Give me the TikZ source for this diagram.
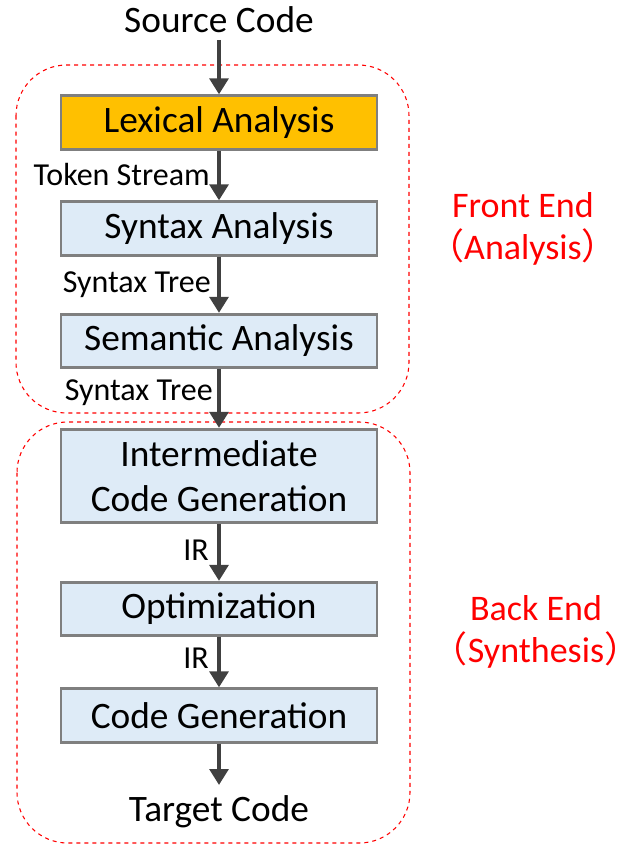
\documentclass[tikz,border=0pt]{standalone}
\usepackage{fontspec}
\setmainfont{Carlito}
\newfontfamily\cjk{Noto Sans CJK SC}
\usetikzlibrary{arrows.meta}
\definecolor{boxgray}{HTML}{7F7F7F}
\definecolor{boxblue}{HTML}{DEEBF7}
\definecolor{boxorange}{HTML}{FFC000}
\definecolor{arrowgray}{HTML}{404040}
\newcommand{\lpar}{\makebox[0.5em][r]{\cjk （}}
\newcommand{\rpar}{\makebox[0.5em][l]{\cjk ）}}
\begin{document}
\begin{tikzpicture}[x=0.75pt,y=-0.75pt,
  stage/.style={draw=boxgray,line width=2.2pt,fill=boxblue,minimum width=237pt,inner sep=0pt,font=\fontsize{28}{34}\selectfont,align=center},
  flow/.style={draw=arrowgray,line width=3pt,-{Triangle[length=12pt,width=14pt]}},
  lbl/.style={font=\fontsize{24}{28}\selectfont,inner sep=0pt},
  redlbl/.style={font=\fontsize{27}{32}\selectfont,text=red,align=center,inner sep=0pt},
  region/.style={draw=red,dashed,line width=0.8pt,rounded corners=38pt}]
\useasboundingbox (0,0) rectangle (626,845);
\draw[region] (16,65) rectangle (409,413);
\draw[region] (17,422) rectangle (410,843);
\node[font=\fontsize{28}{34}\selectfont] (src) at (219,20) {Source Code};
\node[stage,fill=boxorange,minimum height=40pt] (lex) at (219,122.5) {Lexical Analysis};
\node[stage,minimum height=40pt] (syn) at (219,228.5) {Syntax Analysis};
\node[stage,minimum height=40pt] (sem) at (219,341) {Semantic Analysis};
\node[stage,minimum height=70pt] (icg) at (219,476) {Intermediate\\Code Generation};
\node[stage,minimum height=40pt] (opt) at (219,609) {Optimization};
\node[stage,minimum height=40pt] (cg) at (219,715.5) {Code Generation};
\node[font=\fontsize{28}{34}\selectfont] (tgt) at (219,812) {Target Code};
\coordinate (srcend) at (219,40);
\coordinate (tgtend) at (219,785);
\draw[flow] (srcend) -- (lex.north);
\draw[flow] (lex.south) -- (syn.north);
\draw[flow] (syn.south) -- (sem.north);
\draw[flow] (sem.south) -- (icg.north);
\draw[flow] (icg.south) -- (opt.north);
\draw[flow] (opt.south) -- (cg.north);
\draw[flow] (cg.south) -- (tgtend);
\node[lbl,anchor=east] (l1) at (210,175) {Token Stream};
\node[lbl,anchor=east] (l2) at (211,285) {Syntax Tree};
\node[lbl,anchor=east] (l3) at (213,393) {Syntax Tree};
\node[lbl] (l4) at (196,550) {IR};
\node[lbl] (l5) at (196,658) {IR};
\node[redlbl] (fe) at (523,229) {Front End\\\lpar Analysis\rpar};
\node[redlbl] (be) at (536,632) {Back End\\\lpar Synthesis\rpar};
\end{tikzpicture}
\end{document}
